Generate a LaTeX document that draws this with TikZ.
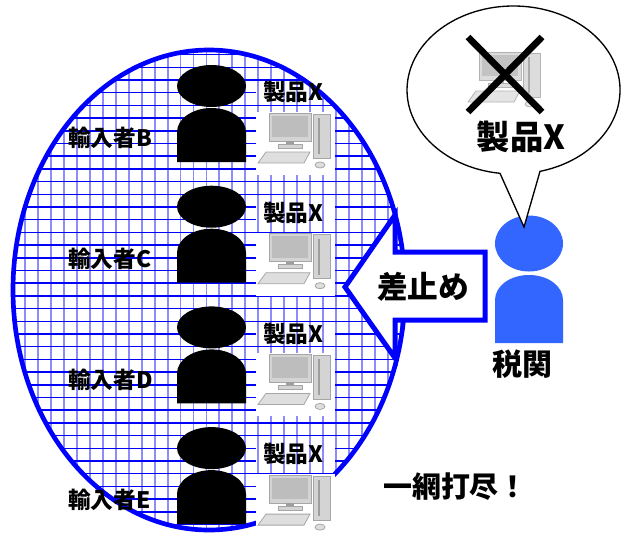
\documentclass[tikz,border=0pt]{standalone}
\usepackage{fontspec}
\newfontfamily\jpfont{Noto Sans CJK JP}
\definecolor{netblue}{RGB}{0,0,255}
\definecolor{officer}{RGB}{51,102,255}
\definecolor{pcbody}{RGB}{212,212,212}
\definecolor{pcscreen}{RGB}{189,189,189}
\definecolor{pcline}{RGB}{166,166,166}
\definecolor{pcdark}{RGB}{158,158,158}
\definecolor{pckey}{RGB}{222,222,222}
\begin{document}
\begin{tikzpicture}[x=0.75pt,y=-0.75pt,
  hline/.style={draw=netblue, line width=1.15pt},
  vline/.style={draw=netblue, draw opacity=0.45, line width=1.4pt},
  netrim/.style={draw=netblue, line width=3.5pt},
  lab/.style={font=\jpfont\bfseries\fontsize{17}{17}\selectfont, inner sep=0pt},
  biglab/.style={font=\jpfont\bfseries\fontsize{23}{23}\selectfont, inner sep=0pt},
  pcedge/.style={draw=pcline, line width=0.6pt},
  computer/.pic={
    \draw[pcedge, fill=pcbody] (55,1) rectangle (72,45);
    \draw[pcdark, line width=0.8pt] (61,5) -- (61,41);
    \draw[pcedge, fill=pcbody] (11,0) rectangle (53,28);
    \fill[pcscreen] (14,2.5) rectangle (50,24);
    \fill[pcdark] (28,28) rectangle (36,31);
    \draw[pcedge, fill=pcbody] (20,31) rectangle (44,35);
    \draw[pcedge, fill=pckey] (8,39) -- (52,39) -- (46,50) -- (0,50) -- cycle;
    \draw[pcedge, fill=pckey] (62,52) ellipse [x radius=5, y radius=3];
  },
  importer/.pic={
    \fill[black] (0,0) ellipse [x radius=34.5, y radius=21];
    \fill[black] (-34.5,76) -- (-34.5,46)
      .. controls (-34.5,32.8) and (-19,22) .. (0,22)
      .. controls (19,22) and (34.5,32.8) .. (34.5,46)
      -- (34.5,76) -- cycle;
  }]
\useasboundingbox (0,0) rectangle (627,537);

% net of importers: horizontal threads, label patches, vertical threads
\begin{scope}
  \clip (209,290) ellipse [x radius=196, y radius=240];
  \foreach \k in {-3,...,36}
    \draw[hline] (0,{80+12.7*\k}) -- (420,{80+12.7*\k});
  \foreach \r in {0,...,3}
    \fill[white] (256,{84+120.7*\r}) rectangle (335,{104+120.7*\r});
  \foreach \k in {-4,...,27}
    \draw[vline] ({64+12.95*\k},0) -- ({64+12.95*\k},540);
\end{scope}
\draw[netrim] (209,290) ellipse [x radius=196, y radius=240];

% products, importers and their labels
\foreach \l [count=\r from 0] in {B,C,D,E} {
  \fill[white] (256,{112+120.7*\r}) rectangle (335,{175+120.7*\r});
  \pic at (258,{113+120.7*\r}) {computer};
  \pic at (211.5,{86+120.7*\r}) {importer};
  \node[lab, anchor=west] (imp\l) at (68,{138+120.7*\r}) {輸入者\l};
  \node[lab, anchor=west] (prod\l) at (263,{92+120.7*\r}) {製品X};
}

% injunction arrow
\draw[draw=netblue, line width=3.75pt, fill=white, line join=miter]
  (345,287) -- (395,215) -- (395,252) -- (485,252) -- (485,320)
  -- (395,320) -- (395,358) -- cycle;
\node[biglab] (stop) at (423,287) {差止め};

% customs officer
\fill[officer] (529,243.5) ellipse [x radius=34, y radius=28];
\fill[officer] (495,343) -- (495,300)
  .. controls (495,286) and (510,275) .. (529,275)
  .. controls (548,275) and (563,286) .. (563,300)
  -- (563,343) -- cycle;
\node[font=\jpfont\bfseries\fontsize{22.5}{22.5}\selectfont, inner sep=0pt]
  (customs) at (522,364) {税関};

% speech balloon with the rejected product
\draw[fill=white, line width=1pt]
  (500,173.3) arc[start angle=97.3, end angle=435.6, x radius=106.5, y radius=84]
  -- (524,227) -- cycle;
\begin{scope}[opacity=0.8]
  \pic at (468,52) {computer};
\end{scope}
\draw[line width=5pt] (468,37) -- (542,112);
\draw[line width=5pt] (542,37) -- (468,112);
\node[font=\jpfont\bfseries\fontsize{25}{25}\selectfont, inner sep=0pt]
  (rejected) at (521,137) {製品X};

% slogan
\node[font=\jpfont\bfseries\fontsize{21.7}{21.7}\selectfont, inner sep=0pt]
  (slogan) at (455.5,487) {一網打尽！};
\end{tikzpicture}
\end{document}
